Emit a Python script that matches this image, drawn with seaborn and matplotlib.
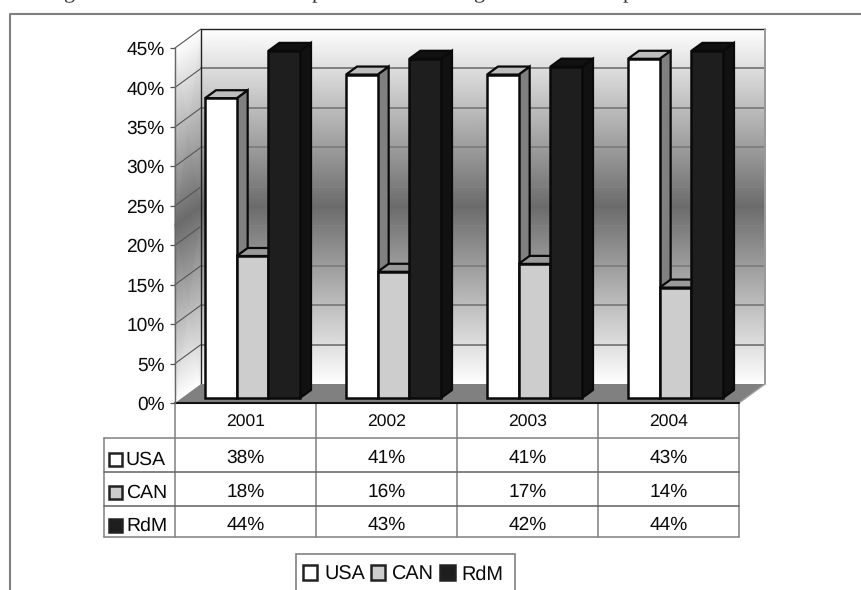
import numpy as np
import pandas as pd
import matplotlib
matplotlib.use("Agg")
import matplotlib.pyplot as plt
from matplotlib.colors import LinearSegmentedColormap
from matplotlib.patches import Polygon, Patch, Rectangle
from matplotlib.ticker import FuncFormatter
import seaborn as sns

years = ["2001", "2002", "2003", "2004"]
series = ["USA", "CAN", "RdM"]
usa = [38, 41, 41, 43]
can = [18, 16, 17, 14]
rdm = [44, 43, 42, 44]
face_colors = {"USA": "#FFFFFF", "CAN": "#CDCDCD", "RdM": "#1E1E1E"}
side_colors = {"USA": "#808080", "CAN": "#8C8C8C", "RdM": "#111111"}
top_colors = {"USA": "#BDBDBD", "CAN": "#9A9A9A", "RdM": "#111111"}
percent_ticks = list(range(0, 50, 5))

W, H = 862, 590
PLOT_L, PLOT_R, PLOT_T, PLOT_B = 175, 739, 48, 403
PX_X = 141.0            # pixels per category
PX_Y = (PLOT_B - PLOT_T) / 45.0  # pixels per percentage point
INK = "#0A0A0A"

sns.set_theme(style="white")
plt.rcParams["font.family"] = ["Liberation Sans", "DejaVu Sans"]
plt.rcParams["text.color"] = INK
plt.rcParams["text.hinting"] = "no_hinting"

fig = plt.figure(figsize=(W / 100, H / 100), dpi=100, facecolor="white")
plot_rect = [PLOT_L / W, 1 - PLOT_B / H, (PLOT_R - PLOT_L) / W, (PLOT_B - PLOT_T) / H]

# Full-page layer in pixel units: outer frame, data table, clipped caption
page = fig.add_axes([0, 0, 1, 1], zorder=0)
page.set_xlim(0, W)
page.set_ylim(H, 0)
page.axis("off")

# Numeric layer behind the bars for the walls, gridlines and floor
box = fig.add_axes(plot_rect, zorder=1)
box.axis("off")
x0, x1 = -0.5, 3.5
box.set_xlim(x0, x1)
box.set_ylim(0, 45)

ax = fig.add_axes(plot_rect, zorder=2)
ax.patch.set_alpha(0)

frame = pd.DataFrame({
    "year": np.tile(years, 3),
    "series": np.repeat(series, 4),
    "share": usa + can + rdm,
})
sns.barplot(data=frame, x="year", y="share", hue="series", order=years, hue_order=series,
            palette=face_colors, saturation=1, width=95 / PX_X, gap=0, legend=False,
            edgecolor=INK, linewidth=1.8, ax=ax)

ax.set_xlim(x0, x1)
ax.set_ylim(0, 45)
ax.set_xlabel("")
ax.set_ylabel("")

# Depth of the chart box (back wall relative to the front plane)
wall_dx, wall_dy = 26 / PX_X, 19 / PX_Y
wall_cmap = LinearSegmentedColormap.from_list("wall", ["#FFFFFF", "#6A6A6A", "#FFFFFF"])
levels = np.array([0.0, 22.5, 45.0])
shade = np.array([0.0, 0.5, 1.0])

# Back wall gradient
bx, by = np.meshgrid([x0 + wall_dx, x1 + wall_dx], levels + wall_dy)
box.pcolormesh(bx, by, np.column_stack([shade, shade]), cmap=wall_cmap, vmin=0, vmax=1,
               shading="gouraud", zorder=0.5, clip_on=False)
# Left wall gradient, sheared along the depth direction
lx = np.column_stack([np.full(3, x0), np.full(3, x0 + wall_dx)])
ly = np.column_stack([levels, levels + wall_dy])
box.pcolormesh(lx, ly, np.column_stack([shade, shade]), cmap=wall_cmap, vmin=0, vmax=1,
               shading="gouraud", zorder=0.5, clip_on=False)

# Gridlines across both walls
for v in percent_ticks[1:]:
    box.plot([x0, x0 + wall_dx], [v, v + wall_dy], color="#555555", lw=0.8, zorder=1, clip_on=False)
    if v < 45:
        box.plot([x0 + wall_dx, x1 + wall_dx], [v + wall_dy] * 2, color="#808080", lw=1.4, zorder=1, clip_on=False)

# Floor and box edges
box.add_patch(Polygon([(x0, 0), (x1, 0), (x1 + wall_dx, wall_dy), (x0 + wall_dx, wall_dy)],
                      closed=True, facecolor="#808080", edgecolor="none", zorder=1.5, clip_on=False))
box.plot([x0, x1], [0, 0], color="#111111", lw=1.5, zorder=2, clip_on=False)
box.plot([x0 + wall_dx] * 2 + [x1 + wall_dx], [wall_dy, 45 + wall_dy, 45 + wall_dy],
         color="#222222", lw=1.0, zorder=1.2, clip_on=False)
box.plot([x1 + wall_dx] * 2, [wall_dy, 45 + wall_dy], color="#999999", lw=1.4, zorder=1.2, clip_on=False)
box.plot([x1, x1 + wall_dx], [0, wall_dy], color="#A0A0A0", lw=1.0, zorder=1.6, clip_on=False)

# Move the seaborn bars into the box and extrude them
shift_x, shift_y = 7 / PX_X, 5 / PX_Y
depth_x, depth_y = 11 / PX_X, 8 / PX_Y
for s_idx, (name, container) in enumerate(zip(series, ax.containers)):
    for c_idx, bar in enumerate(container):
        x = bar.get_x() + shift_x
        w = bar.get_width()
        h = bar.get_height()
        bar.set_x(x)
        bar.set_y(shift_y)
        bar.set_clip_on(False)
        z = 3 + c_idx + s_idx * 0.2
        bar.set_zorder(z + 0.1)
        y1 = shift_y + h
        ax.add_patch(Polygon([(x + w, shift_y), (x + w, y1), (x + w + depth_x, y1 + depth_y),
                              (x + w + depth_x, shift_y + depth_y)], closed=True,
                             facecolor=side_colors[name], edgecolor=INK, lw=1.6, zorder=z, clip_on=False))
        ax.add_patch(Polygon([(x, y1), (x + w, y1), (x + w + depth_x, y1 + depth_y), (x + depth_x, y1 + depth_y)],
                             closed=True, facecolor=top_colors[name], edgecolor=INK, lw=1.6,
                             zorder=z, clip_on=False))

# Axis styling
for side in ("top", "right", "bottom"):
    ax.spines[side].set_visible(False)
ax.spines["left"].set_color("#666666")
ax.spines["left"].set_linewidth(1.0)
ax.set_yticks(percent_ticks)
ax.yaxis.set_major_formatter(FuncFormatter(lambda v, _: f"{v:.0f}%"))
ax.tick_params(axis="y", left=True, length=3.6, width=0.9, color="#555555", pad=4, labelsize=13.8, labelcolor=INK)
ax.tick_params(axis="x", bottom=False, length=0, pad=8, labelsize=12.6, labelcolor=INK)

# Outer frame
page.plot([10.5, 10.5, W], [H, 13.5, 13.5], color="#808080", lw=1.5)

# Caption line cut off by the upper edge of the page
for glyph, gx in zip("gpgp", (69, 317, 479, 628)):
    page.text(gx, -2, glyph, family="Liberation Serif", fontsize=16, ha="center", va="baseline",
              color="#333333", clip_on=False)

# Data table under the plot
col_edges = [PLOT_L + i * PX_X for i in range(5)]
row_edges = [438, 472, 505.5, 537]
line = dict(color="#808080", lw=1.1)
for x in col_edges:
    page.plot([x, x], [PLOT_B, row_edges[-1]], **line)
page.plot([104, 104], [row_edges[0], row_edges[-1]], **line)
for y in row_edges:
    dark = y in (472, 505.5)
    page.plot([104, col_edges[-1]], [y, y], color="#606060" if dark else "#808080", lw=1.1)

rows = [usa, can, rdm]
row_text_y = [458, 491.5, 524.5]
swatch_y = [459.5, 492, 525]
for name, values, ty, sy in zip(series, rows, row_text_y, swatch_y):
    page.add_patch(Rectangle((109.5, sy - 6.5), 13, 13, facecolor=face_colors[name], edgecolor="#222222", lw=1.8))
    page.text(126, ty + 1.5, name, fontsize=14, ha="left", va="center", color=INK)
    for i, value in enumerate(values):
        page.text(col_edges[i] + PX_X / 2, ty, f"{value}%", fontsize=13.8, ha="center", va="center", color=INK)

# Legend in its own box, the lower border falling past the page edge
page.add_patch(Rectangle((296, 553.5), 219, 45, facecolor="white", edgecolor="#808080", lw=1.2, zorder=3))
handles = [Patch(facecolor=face_colors[n], edgecolor="#222222", lw=1.8, label=n) for n in series]
fig.legend(handles=handles, ncol=3, loc="upper left", bbox_to_anchor=(303 / W, 1 - 565 / H),
           borderaxespad=0, borderpad=0, fontsize=14.3, frameon=False,
           handlelength=0.72, handleheight=0.72, handletextpad=0.35, columnspacing=0.3)

fig.savefig("out.png", dpi=100, facecolor="white")
